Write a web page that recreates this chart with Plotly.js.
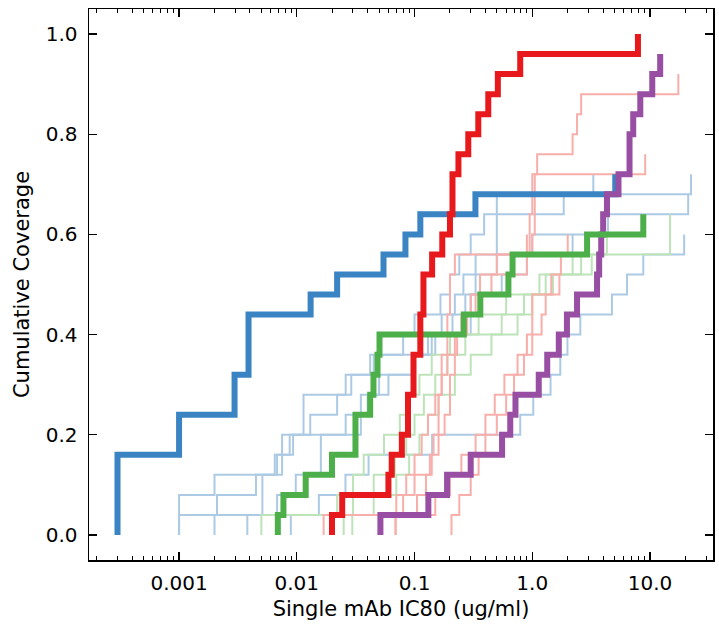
<!DOCTYPE html>
<html>
<head>
<meta charset="utf-8">
<script src="https://cdn.plot.ly/plotly-3.0.1.min.js"></script>
<style>html,body{margin:0;padding:0;background:#fff;}#chart{width:719px;height:626px;}</style>
</head>
<body>
<div id="chart"></div>
<script>
// Bold series: IC80 step positions (ug/ml) and cumulative coverage after each step
const blueX   = [0.0003, 0.001, 0.00296, 0.00389, 0.0131, 0.022, 0.0545, 0.0837, 0.112, 0.329, 5.07];
const blueY   = [0.16, 0.24, 0.32, 0.44, 0.48, 0.52, 0.56, 0.60, 0.64, 0.68, 0.72];
const redX    = [0.0199, 0.0243, 0.060, 0.064, 0.078, 0.088, 0.098, 0.112, 0.119, 0.141, 0.172, 0.20, 0.21, 0.236, 0.286, 0.348, 0.423, 0.51, 0.79, 7.9];
const redY    = [0.04, 0.08, 0.12, 0.16, 0.20, 0.28, 0.36, 0.44, 0.52, 0.56, 0.60, 0.64, 0.72, 0.76, 0.80, 0.84, 0.88, 0.92, 0.96, 1.00];
const greenX  = [0.0069, 0.0077, 0.0119, 0.0199, 0.0315, 0.042, 0.0448, 0.0485, 0.0504, 0.262, 0.362, 0.627, 0.68, 2.92, 8.77];
const greenY  = [0.04, 0.08, 0.12, 0.16, 0.24, 0.28, 0.32, 0.36, 0.40, 0.44, 0.48, 0.52, 0.56, 0.60, 0.64];
const purpleX = [0.0513, 0.131, 0.189, 0.30, 0.554, 0.65, 0.72, 1.135, 1.34, 1.68, 1.97, 2.40, 3.55, 3.7, 3.85, 4.0, 4.31, 5.4, 6.7, 7.2, 8.27, 10.45, 12.2];
const purpleY = [0.04, 0.08, 0.12, 0.16, 0.20, 0.24, 0.28, 0.32, 0.36, 0.40, 0.44, 0.48, 0.52, 0.56, 0.60, 0.64, 0.68, 0.72, 0.80, 0.84, 0.88, 0.92, 0.96];

// Faint series (light blue)
const lb1X = [0.001, 0.002, 0.0075, 0.0114, 0.029, 0.042, 0.08, 0.1, 0.166, 0.2, 0.24, 0.3, 0.39, 1.85, 22.3];
const lb1Y = [0.08, 0.12, 0.20, 0.28, 0.32, 0.36, 0.40, 0.44, 0.48, 0.52, 0.56, 0.60, 0.64, 0.68, 0.72];
const lb2X = [0.002, 0.0051, 0.0068, 0.0087, 0.013, 0.022, 0.026, 0.045, 0.13, 0.17, 0.22, 0.26, 0.33, 1.0, 4.4, 21.1];
const lb2Y = [0.04, 0.12, 0.16, 0.20, 0.24, 0.28, 0.32, 0.36, 0.40, 0.44, 0.48, 0.52, 0.56, 0.60, 0.64, 0.68];
const lb3X = [0.0038, 0.0068, 0.0098, 0.016, 0.026, 0.04, 0.05, 0.1, 0.14, 0.21, 0.27, 0.33, 0.5, 3.3];
const lb3Y = [0.04, 0.08, 0.12, 0.20, 0.24, 0.28, 0.32, 0.36, 0.40, 0.44, 0.48, 0.52, 0.68, 0.72];
const lb4X = [0.0089, 0.0154, 0.0259, 0.0407, 0.141, 0.79, 1.02, 1.43, 1.73, 1.99, 2.56, 4.75, 6.38, 8.77, 19.5];
const lb4Y = [0.04, 0.08, 0.12, 0.16, 0.20, 0.24, 0.28, 0.32, 0.36, 0.40, 0.44, 0.48, 0.52, 0.56, 0.60];
const lb5X = [0.001, 0.0021, 0.0045, 0.0065, 0.0093, 0.035, 0.06, 0.095, 0.15, 0.3, 0.55, 0.9, 2.2];
const lb5Y = [0.04, 0.08, 0.12, 0.16, 0.20, 0.28, 0.32, 0.36, 0.40, 0.48, 0.52, 0.56, 0.60];

// Faint series (light red)
const lr1X = [0.0169, 0.105, 0.125, 0.135, 0.145, 0.16, 0.17, 0.19, 0.2, 0.22, 0.95, 1.0, 9.1];
const lr1Y = [0.04, 0.08, 0.12, 0.16, 0.20, 0.28, 0.36, 0.44, 0.52, 0.56, 0.64, 0.72, 0.76];
const lr2X = [0.069, 0.08, 0.1, 0.14, 0.16, 0.18, 0.2, 0.22, 0.25, 0.3, 0.36, 0.5, 1.0, 1.05, 1.1, 2.2, 2.4, 2.6, 17.4];
const lr2Y = [0.04, 0.08, 0.12, 0.16, 0.20, 0.24, 0.32, 0.40, 0.44, 0.48, 0.52, 0.56, 0.60, 0.72, 0.76, 0.80, 0.84, 0.88, 0.92];
const lr3X = [0.206, 0.24, 0.3, 0.35, 0.4, 0.5, 0.6, 0.7, 0.85, 1.0, 1.2, 1.3, 1.45, 1.75, 2.0];
const lr3Y = [0.04, 0.08, 0.12, 0.16, 0.20, 0.24, 0.28, 0.32, 0.36, 0.40, 0.44, 0.48, 0.52, 0.56, 0.60];
const lr4X = [0.0195, 0.07, 0.085, 0.1, 0.115, 0.13, 0.15, 0.17, 0.19, 0.23, 0.28, 0.33, 0.45, 0.9];
const lr4Y = [0.04, 0.08, 0.12, 0.16, 0.20, 0.24, 0.28, 0.32, 0.36, 0.40, 0.44, 0.48, 0.52, 0.60];
const lr5X = [0.069, 0.15, 0.2, 0.25, 0.33, 0.4, 0.48, 0.58, 0.75, 0.9, 1.0, 1.7];
const lr5Y = [0.04, 0.08, 0.12, 0.16, 0.20, 0.24, 0.28, 0.32, 0.36, 0.40, 0.48, 0.52];

// Faint series (light green)
const lg1X = [0.005, 0.022, 0.03, 0.037, 0.055, 0.075, 0.09, 0.11, 0.14, 0.2, 0.35, 0.6, 1.3, 3.2, 4.3];
const lg1Y = [0.04, 0.08, 0.12, 0.16, 0.20, 0.24, 0.28, 0.32, 0.36, 0.40, 0.44, 0.48, 0.52, 0.56, 0.60];
const lg2X = [0.025, 0.03, 0.045, 0.068, 0.085, 0.1, 0.12, 0.15, 0.19, 0.27, 0.55, 0.85, 1.15, 2.2, 14.8];
const lg2Y = [0.04, 0.08, 0.12, 0.16, 0.20, 0.24, 0.28, 0.32, 0.36, 0.40, 0.44, 0.48, 0.52, 0.56, 0.64];
const lg3X = [0.0296, 0.045, 0.07, 0.09, 0.11, 0.13, 0.16, 0.22, 0.3, 0.45, 0.75, 1.0, 1.5, 2.6];
const lg3Y = [0.04, 0.08, 0.12, 0.16, 0.20, 0.24, 0.28, 0.32, 0.36, 0.40, 0.44, 0.48, 0.52, 0.56];

const tickVals = [0.001, 0.01, 0.1, 1, 10];
const tickText = ['0.001', '0.01', '0.1', '1.0', '10.0'];

function stepTrace(xs, ys, color, width) {
  return {
    x: [xs[0]].concat(xs),
    y: [0].concat(ys),
    mode: 'lines',
    type: 'scatter',
    line: {shape: 'hv', color: color, width: width},
    hoverinfo: 'skip',
    showlegend: false
  };
}

const faintBlue = '#adcae5';
const faintRed = '#f8aeaa';
const faintGreen = '#bde3b9';

const data = [
  stepTrace(lb1X, lb1Y, faintBlue, 2),
  stepTrace(lb2X, lb2Y, faintBlue, 2),
  stepTrace(lb3X, lb3Y, faintBlue, 2),
  stepTrace(lb4X, lb4Y, faintBlue, 2),
  stepTrace(lb5X, lb5Y, faintBlue, 2),
  stepTrace(lg1X, lg1Y, faintGreen, 2),
  stepTrace(lg2X, lg2Y, faintGreen, 2),
  stepTrace(lg3X, lg3Y, faintGreen, 2),
  stepTrace(lr1X, lr1Y, faintRed, 2),
  stepTrace(lr2X, lr2Y, faintRed, 2),
  stepTrace(lr3X, lr3Y, faintRed, 2),
  stepTrace(lr4X, lr4Y, faintRed, 2),
  stepTrace(lr5X, lr5Y, faintRed, 2),
  stepTrace(blueX, blueY, '#3a84c3', 6),
  stepTrace(purpleX, purpleY, '#984ea3', 6),
  stepTrace(greenX, greenY, '#4daf4a', 6),
  stepTrace(redX, redY, '#e8191c', 6)
];

const minorVals = [];
for (let d = -4; d <= 1; d++) {
  for (let k = 2; k <= 9; k++) minorVals.push(k * Math.pow(10, d));
}

const layout = {
  width: 719,
  height: 626,
  margin: {l: 89, r: 6, t: 9, b: 66},
  paper_bgcolor: '#ffffff',
  plot_bgcolor: '#ffffff',
  font: {family: 'DejaVu Sans, sans-serif', color: '#000000', size: 20},
  xaxis: {
    type: 'log',
    range: [-3.765, 1.535],
    tickmode: 'array',
    tickvals: tickVals,
    ticktext: tickText,
    ticks: 'inside',
    ticklen: 8,
    tickwidth: 1.2,
    tickcolor: '#000',
    minor: {tickmode: 'array', tickvals: minorVals, ticks: 'inside', ticklen: 4, tickwidth: 1, tickcolor: '#000', showgrid: false},
    showline: true,
    linecolor: '#000',
    linewidth: 1.5,
    mirror: 'ticks',
    showgrid: false,
    zeroline: false,
    tickfont: {size: 20},
    ticklabelstandoff: 4,
    title: {text: 'Single mAb IC80 (ug/ml)', font: {size: 21}, standoff: 8}
  },
  yaxis: {
    range: [-0.05, 1.05],
    tickmode: 'array',
    tickvals: [0, 0.2, 0.4, 0.6, 0.8, 1.0],
    tickformat: '.1f',
    ticks: 'inside',
    ticklen: 8,
    tickwidth: 1.2,
    tickcolor: '#000',
    showline: true,
    linecolor: '#000',
    linewidth: 1.5,
    mirror: 'ticks',
    showgrid: false,
    zeroline: false,
    tickfont: {size: 20},
    ticklabelstandoff: 6,
    title: {text: 'Cumulative Coverage', font: {size: 21}, standoff: 10}
  }
};

Plotly.newPlot('chart', data, layout, {staticPlot: true, displayModeBar: false});
</script>
</body>
</html>
